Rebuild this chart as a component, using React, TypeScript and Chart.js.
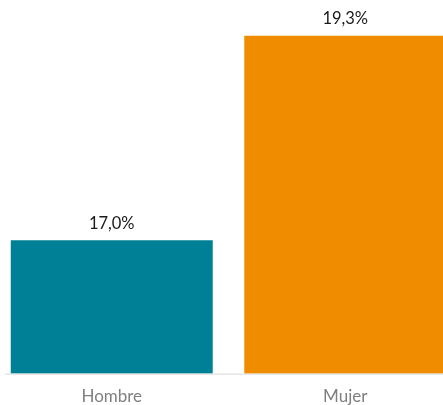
import React, { useEffect, useRef } from "react";
import { Chart, registerables } from "chart.js";

Chart.register(...registerables);

const categories = ["Hombre", "Mujer"];
const values = [17.0, 19.3];
const barColors = ["#008096", "#F08C00"];
const yMin = 15.5;
const yMax = 19.5;

const labelPlugin = {
  id: "valueLabels",
  afterDatasetsDraw(chart: any) {
    const ctx = chart.ctx;
    const meta = chart.getDatasetMeta(0);
    ctx.save();
    ctx.font = "16.5px Lato";
    ctx.fillStyle = "#1a1a1a";
    ctx.textAlign = "center";
    ctx.textBaseline = "middle";
    meta.data.forEach((bar: any, i: number) => {
      const txt = values[i].toFixed(1).replace(".", ",") + "%";
      ctx.fillText(txt, bar.x, bar.y - 17);
    });
    ctx.restore();
  },
};

const axisLinePlugin = {
  id: "axisLine",
  afterDatasetsDraw(chart: any) {
    const ctx = chart.ctx;
    const { left, right, bottom } = chart.chartArea;
    ctx.save();
    ctx.strokeStyle = "#d9d9d9";
    ctx.lineWidth = 1;
    ctx.beginPath();
    ctx.moveTo(left + 10, bottom + 0.5);
    ctx.lineTo(right, bottom + 0.5);
    ctx.stroke();
    ctx.restore();
  },
};

export default function App() {
  const ref = useRef<HTMLCanvasElement>(null);
  useEffect(() => {
    if (!ref.current) return;
    const chart = new Chart(ref.current, {
      type: "bar",
      data: {
        labels: categories,
        datasets: [
          {
            data: values,
            backgroundColor: barColors,
            barPercentage: 0.865,
            categoryPercentage: 1,
            borderWidth: 0,
          },
        ],
      },
      options: {
        responsive: false,
        animation: false,
        layout: { padding: { top: 18, left: 0, right: 0, bottom: 0 } },
        plugins: { legend: { display: false }, tooltip: { enabled: false } },
        scales: {
          x: {
            grid: { display: false, drawTicks: false },
            border: { display: false },
            ticks: { color: "#7f7f7f", font: { family: "Lato", size: 17 }, padding: 13 },
          },
          y: {
            display: false,
            min: yMin,
            max: yMax,
          },
        },
      },
      plugins: [labelPlugin, axisLinePlugin],
    });
    return () => chart.destroy();
  }, []);
  return (
    <div style={{ position: "fixed", left: 0, top: 0, width: 443, height: 405, overflow: "hidden", background: "#fff" }}>
      <canvas ref={ref} width={467} height={420} style={{ position: "absolute", left: -5, top: 0, width: 467, height: 420 }} />
    </div>
  );
}
